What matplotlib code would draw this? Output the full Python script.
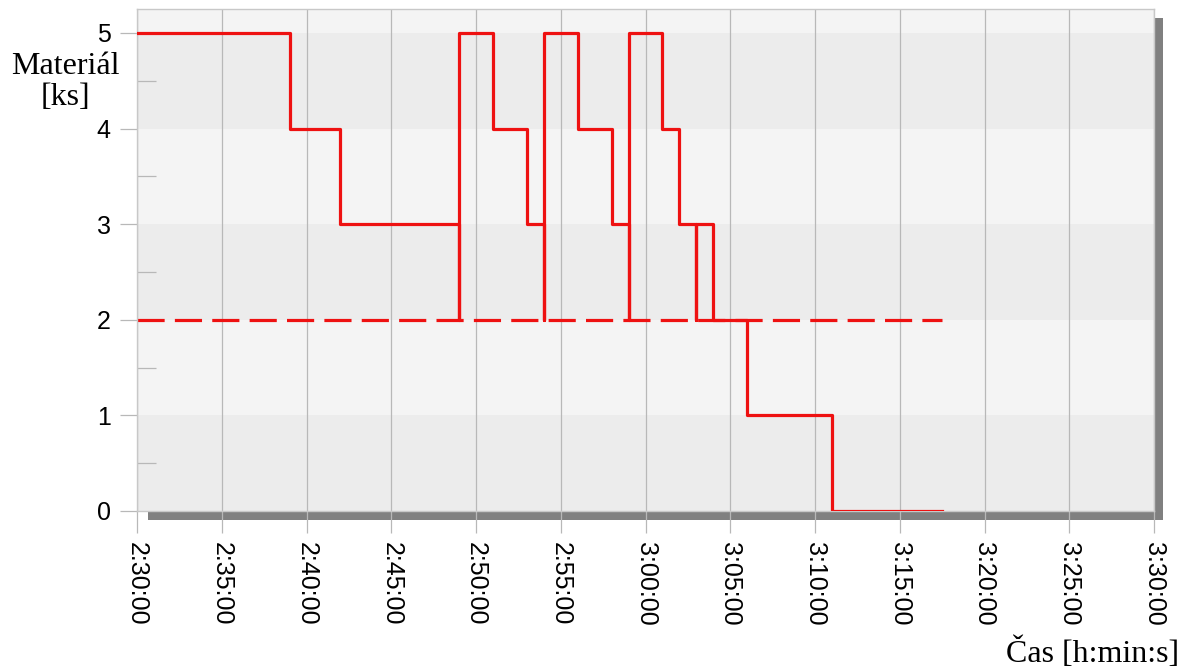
import matplotlib
matplotlib.use("Agg")
import matplotlib.pyplot as plt
from matplotlib.patches import Rectangle
from matplotlib.ticker import MultipleLocator, FuncFormatter

# material level over time (step data)
times = ["2:30:00", "2:39:00", "2:42:00", "2:49:00", "2:49:00", "2:51:00",
         "2:53:00", "2:54:00", "2:54:00", "2:56:00", "2:58:00", "2:59:00",
         "2:59:00", "3:01:00", "3:02:00", "3:03:00", "3:03:00", "3:04:00",
         "3:06:00", "3:11:00", "3:17:30"]
levels = [5, 4, 3, 2, 5, 4, 3, 2, 5, 4, 3, 2, 5, 4, 3, 2, 3, 2, 1, 0, 0]

# minimum stock line
min_times = ["2:30:00", "3:17:30"]
min_levels = [2, 2]

x_start, x_end = "2:30:00", "3:30:00"
y_ticks = [0, 1, 2, 3, 4, 5]


def to_min(s):
    h, m, sec = [int(v) for v in s.split(":")]
    return h * 60 + m + sec / 60.0


def fmt_time(v, pos=None):
    tot = int(round(v * 60))
    return "%d:%02d:%02d" % (tot // 3600, (tot // 60) % 60, tot % 60)


W, H = 1187, 671
fig = plt.figure(figsize=(W / 100, H / 100), dpi=100)
fig.patch.set_facecolor("white")

left, right, top, bottom = 137, 1154, 9, 511
ax = fig.add_axes([left / W, 1 - bottom / H, (right - left) / W, (bottom - top) / H])
ax.set_zorder(1)

# drop shadow behind the plot area
shadow = Rectangle((148 / W, 1 - 520 / H), (1163 - 148) / W, (520 - 18) / H,
                   transform=fig.transFigure, facecolor="#808080", edgecolor="none",
                   zorder=0)
fig.add_artist(shadow)

ax.set_facecolor("#f4f4f4")
ylim_top = 5.25
ax.set_ylim(0, ylim_top)
ax.set_xlim(to_min(x_start), to_min(x_end))

# alternating horizontal bands
for i in range(0, 5, 2):
    ax.axhspan(i, i + 1, facecolor="#ececec", edgecolor="none", zorder=0)

ax.xaxis.set_major_locator(MultipleLocator(5))
ax.xaxis.set_major_formatter(FuncFormatter(fmt_time))
ax.set_yticks(y_ticks)
ax.yaxis.set_minor_locator(MultipleLocator(0.5))
ax.grid(axis="x", color="#b8b8b8", linewidth=0.9, zorder=1)
ax.set_axisbelow(True)

tx = [to_min(t) for t in times]
ax.plot(tx, levels, drawstyle="steps-post", color="#ee1111", linewidth=2.3, zorder=3)

mx = [to_min(t) for t in min_times]
ax.plot(mx, min_levels, color="#ee1111", linewidth=2.3, zorder=2,
        dashes=(8.5, 3.2), dash_capstyle="butt")

for sp in ax.spines.values():
    sp.set_color("#c8c8c8")
    sp.set_linewidth(1)

ax.tick_params(axis="x", direction="out", length=16, width=0.9, color="#b8b8b8",
               pad=6, labelsize=18, labelrotation=270)
ax.tick_params(axis="y", which="major", direction="out", length=12, width=0.9,
               color="#b8b8b8", pad=7, labelsize=18)
ax.tick_params(axis="y", which="minor", direction="in", length=14, width=0.9,
               color="#b8b8b8")
for lab in ax.get_xticklabels() + ax.get_yticklabels():
    lab.set_fontfamily("Liberation Sans")
for lab in ax.get_xticklabels():
    lab.set_verticalalignment("top")
    lab.set_horizontalalignment("center")

fig.text(65 / W, 1 - 82 / H, "Materiál\n[ks]", ha="center", va="center",
         multialignment="center", fontsize=23, family="Liberation Serif",
         linespacing=1.1)
fig.text(1179 / W, 1 - 653 / H, "Čas [h:min:s]", ha="right", va="center",
         fontsize=23, family="Liberation Serif")

fig.savefig("out.png", dpi=100)
